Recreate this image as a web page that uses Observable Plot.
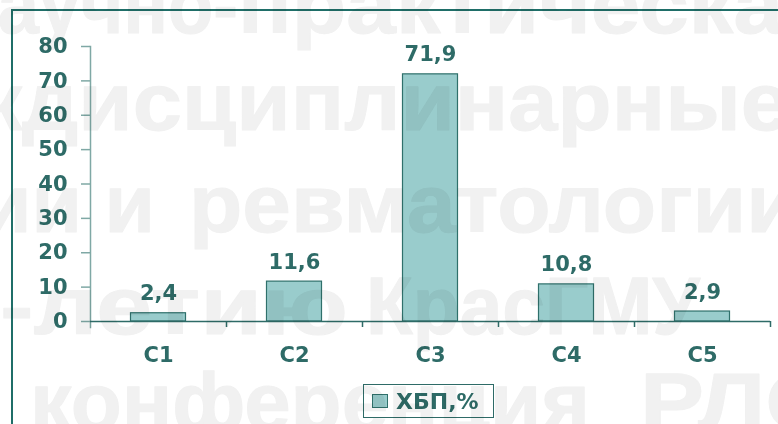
<!DOCTYPE html>
<html>
<head>
<meta charset="utf-8">
<script src="https://cdn.jsdelivr.net/npm/d3@7"></script>
<script src="https://cdn.jsdelivr.net/npm/@observablehq/plot@0.6"></script>
<style>
  html, body { margin: 0; padding: 0; background: #ffffff; }
  #wrap { position: relative; width: 778px; height: 424px; overflow: hidden; background: #fff; isolation: isolate; }
  #frame { position: absolute; left: 11px; top: 9px; width: 900px; height: 600px;
           border-top: 2px solid #1f6e68; border-left: 2px solid #1f6e68; box-sizing: border-box; }
  #chart { position: absolute; left: 0; top: 0; }
  #wm { position: absolute; left: 0; top: 0; pointer-events: none; mix-blend-mode: multiply; }
  #wm text { font-family: "Liberation Sans", Arimo, Arial, sans-serif; font-weight: bold; font-size: 82px;
             fill: #f1f1f1; stroke: #f1f1f1; stroke-width: 1px; stroke-linejoin: round; }
  #legend { position: absolute; left: 363px; top: 384px; width: 131px; height: 34px; box-sizing: border-box;
            border: 1px solid #2e6b67; background: transparent; display: flex; align-items: center;
            font-family: "DejaVu Sans", sans-serif; font-weight: bold; font-size: 22px; color: #2e6b67; }
  #legend .sw { width: 16px; height: 14px; background: #99cccc; border: 1px solid #2f706b; box-sizing: border-box;
                margin-left: 8px; margin-right: 8px; }
</style>
</head>
<body>
<div id="wrap">
  <div id="frame"></div>
  <div id="chart"></div>
  <div id="legend"><div class="sw"></div><span id="legendText"></span></div>
  <svg id="wm" width="778" height="424">
    <text x="-47" y="33" textLength="285" lengthAdjust="spacingAndGlyphs">научно-</text>
    <text x="238" y="33" textLength="597" lengthAdjust="spacingAndGlyphs">практическая</text>
    <text x="22" y="130" text-anchor="end">меж</text>
    <text x="22" y="130" textLength="768" lengthAdjust="spacingAndGlyphs">дисциплинарные</text>
    <text x="155" y="232" text-anchor="end">кардиологии и</text>
    <text x="189" y="232" textLength="611" lengthAdjust="spacingAndGlyphs">ревматологии</text>
    <text x="0" y="334" textLength="348" lengthAdjust="spacingAndGlyphs">-летию</text>
    <text x="366" y="334" textLength="334" lengthAdjust="spacingAndGlyphs">КрасГМУ</text>
    <text x="30" y="430" textLength="560" lengthAdjust="spacingAndGlyphs">конференция</text>
    <text x="640" y="430" textLength="200" lengthAdjust="spacingAndGlyphs">РЛО</text>
  </svg>
</div>
<script>
// ---- data ----
const categories = ["C1", "C2", "C3", "C4", "C5"];
const values = [2.4, 11.6, 71.9, 10.8, 2.9];
const yTicks = [0, 10, 20, 30, 40, 50, 60, 70, 80];
const seriesName = "ХБП,%";

const data = categories.map((c, i) => ({cat: c, value: values[i]}));
const fmt = v => v.toFixed(1).replace(".", ",");

const W = 778, H = 424, ml = 90, mr = 8, mt = 46, mb = 103;
const step = (W - ml - mr) / categories.length;
const textColor = "#2e6b67";
const font = "DejaVu Sans, sans-serif";

const chart = Plot.plot({
  width: W,
  height: H,
  marginLeft: ml,
  marginRight: mr,
  marginTop: mt,
  marginBottom: mb,
  style: {background: "transparent", fontFamily: font, fontWeight: "bold", fontSize: "21px", color: textColor},
  x: {domain: categories, padding: 0, axis: null},
  y: {domain: [0, 80], axis: null},
  marks: [
    Plot.frame({anchor: "left", stroke: "#7fa8a5", strokeWidth: 1.5, insetBottom: -6}),
    Plot.barY(data, {x: "cat", y: "value", fill: "#99cccc", stroke: "#2f706b", strokeWidth: 1.2,
                     insetLeft: 40.5, insetRight: 40.5}),
    Plot.ruleY([0], {stroke: textColor, strokeWidth: 1.5}),
    Plot.ruleX(categories.slice(1), {x: d => d, y1: 0, y2: 0, dx: -step / 2, insetBottom: -6, stroke: textColor, strokeWidth: 1.5}),
    Plot.ruleX([categories[categories.length - 1]], {x: d => d, y1: 0, y2: 0, dx: step / 2, insetBottom: -6, stroke: textColor, strokeWidth: 1.5}),
    Plot.axisY({ticks: yTicks, tickSize: 9, tickPadding: 14, stroke: "#7fa8a5", strokeWidth: 1.5, label: null,
                fill: textColor, fontSize: 21, fontWeight: "bold", tickFormat: d => String(d)}),
    Plot.axisX({tickSize: 0, tickPadding: 26, fill: textColor, fontSize: 21, fontWeight: "bold", label: null}),
    Plot.text(data, {x: "cat", y: "value", text: d => fmt(d.value), dy: -13, lineAnchor: "bottom",
                     fill: textColor, fontSize: 21, fontWeight: "bold"})
  ]
});
document.getElementById("chart").appendChild(chart);
document.getElementById("legendText").textContent = seriesName;
</script>
</body>
</html>
